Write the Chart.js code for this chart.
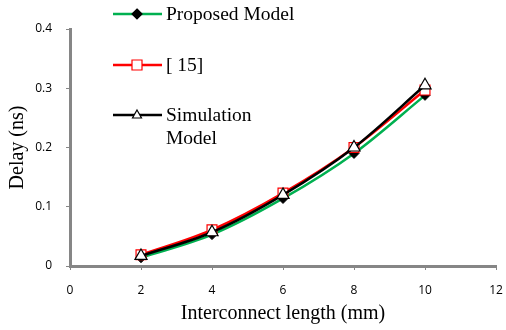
<!DOCTYPE html>
<html>
<head>
<meta charset="utf-8">
<script src="https://cdn.jsdelivr.net/npm/chart.js@4"></script>
<style>
  html, body { margin: 0; padding: 0; background: #fff; }
  #wrap { width: 506px; height: 330px; }
</style>
</head>
<body>
<div id="wrap"><canvas id="delayChart" width="506" height="330"></canvas></div>
<script>
// Chart data
const lengths = [2, 4, 6, 8, 10];
const proposedDelay = [0.014, 0.053, 0.114, 0.19, 0.288];
const ref15Delay = [0.019, 0.061, 0.123, 0.2, 0.297];
const simulationDelay = [0.017, 0.057, 0.12, 0.2, 0.305];
const legendLabels = [['Proposed Model'], ['[ 15]'], ['Simulation', 'Model']];

const axisGray = '#868686';
const serif = '"Liberation Serif", "Times New Roman", serif';

function toPoints(values) {
  return lengths.map((x, i) => ({ x: x, y: values[i] }));
}

// Legend drawn by hand so the multi-line label can match the figure
const sideLegend = {
  id: 'sideLegend',
  afterDraw(chart) {
    const c = chart.ctx;
    const rows = [14, 65, 115];
    c.save();
    chart.data.datasets.forEach((ds, i) => {
      const y = rows[i];
      c.strokeStyle = ds.borderColor;
      c.lineWidth = 2.5;
      c.beginPath();
      c.moveTo(113, y);
      c.lineTo(162, y);
      c.stroke();
      c.fillStyle = ds.pointBackgroundColor;
      c.strokeStyle = ds.pointBorderColor;
      c.lineWidth = 1.2;
      c.beginPath();
      if (ds.pointStyle === 'rectRot') {
        c.moveTo(137, y - 5); c.lineTo(142, y); c.lineTo(137, y + 5); c.lineTo(132, y);
        c.closePath();
      } else if (ds.pointStyle === 'rect') {
        c.rect(132, y - 5, 10, 10);
      } else {
        c.moveTo(137, y - 5); c.lineTo(141.5, y + 3); c.lineTo(132.5, y + 3);
        c.closePath();
      }
      c.fill();
      c.stroke();
      c.fillStyle = '#000';
      c.font = '19.5px ' + serif;
      c.textBaseline = 'middle';
      legendLabels[i].forEach((line, k) => {
        c.fillText(line, 166, y + 1 + k * 23);
      });
    });
    c.restore();
  }
};

new Chart(document.getElementById('delayChart'), {
  type: 'line',
  data: {
    datasets: [
      {
        label: 'Proposed Model',
        data: toPoints(proposedDelay),
        borderColor: '#00B050',
        borderWidth: 2.5,
        pointStyle: 'rectRot',
        pointRadius: 5,
        pointBackgroundColor: '#000',
        pointBorderColor: '#000',
        pointBorderWidth: 1,
        cubicInterpolationMode: 'monotone',
        order: 3
      },
      {
        label: '[ 15]',
        data: toPoints(ref15Delay),
        borderColor: '#FF0000',
        borderWidth: 2.5,
        pointStyle: 'rect',
        pointRadius: 7,
        pointBackgroundColor: '#fff',
        pointBorderColor: '#FF0000',
        pointBorderWidth: 1.2,
        cubicInterpolationMode: 'monotone',
        order: 2
      },
      {
        label: 'Simulation Model',
        data: toPoints(simulationDelay),
        borderColor: '#000',
        borderWidth: 2.5,
        pointStyle: 'triangle',
        pointRadius: 7,
        pointBackgroundColor: '#fff',
        pointBorderColor: '#000',
        pointBorderWidth: 1.2,
        cubicInterpolationMode: 'monotone',
        order: 1
      }
    ]
  },
  options: {
    responsive: false,
    animation: false,
    layout: { padding: { left: 0, top: 29, right: 0, bottom: 0 } },
    plugins: {
      legend: { display: false },
      tooltip: { enabled: false }
    },
    scales: {
      x: {
        type: 'linear',
        min: 0,
        max: 12,
        ticks: {
          stepSize: 2,
          color: '#000',
          font: { family: '"Open Sans", sans-serif', size: 12 },
          padding: 13
        },
        grid: {
          display: true,
          drawOnChartArea: false,
          drawTicks: true,
          tickLength: 4,
          color: axisGray
        },
        border: { color: axisGray, width: 3 },
        title: {
          display: true,
          text: 'Interconnect length (mm)',
          color: '#000',
          font: { family: serif, size: 20 },
          padding: { top: 0 }
        },
        afterFit(scale) {
          scale.height = 64;
          scale.paddingRight = 10;
        }
      },
      y: {
        min: 0,
        max: 0.4,
        ticks: {
          stepSize: 0.1,
          color: '#000',
          font: { family: '"Open Sans", sans-serif', size: 12 },
          padding: 14
        },
        grid: {
          display: true,
          drawOnChartArea: false,
          drawTicks: true,
          tickLength: 4,
          color: axisGray
        },
        border: { color: axisGray, width: 3 },
        title: {
          display: true,
          text: 'Delay (ns)',
          color: '#000',
          font: { family: serif, size: 20 },
          padding: { bottom: 0, top: 6 }
        },
        afterFit(scale) { scale.width = 70; }
      }
    }
  },
  plugins: [sideLegend]
});
</script>
</body>
</html>
